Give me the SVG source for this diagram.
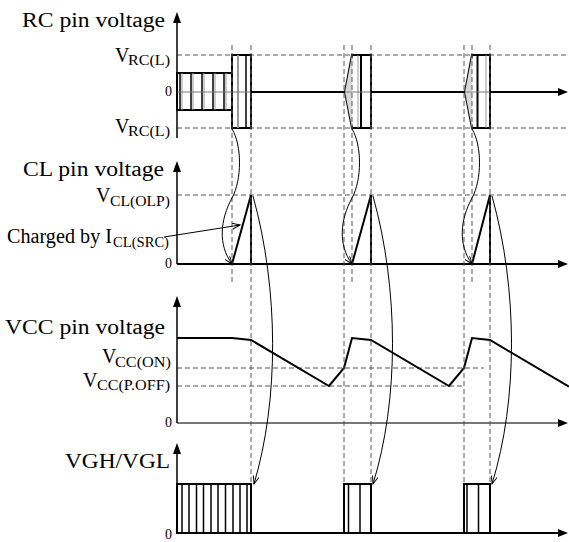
<svg xmlns="http://www.w3.org/2000/svg" width="569" height="542" viewBox="0 0 569 542">
<style>
.ax{stroke:#000;stroke-width:1.5;fill:none}
.base{stroke:#000;stroke-width:2;fill:none}
.dash{stroke:#555;stroke-width:1;stroke-dasharray:5 3;fill:none}
.wave{stroke:#000;stroke-width:2;fill:none}
.pulse{stroke:#000;stroke-width:2;fill:#fff}
.bar{stroke:#000;stroke-width:1.5}
.bar2{stroke:#999;stroke-width:1}
.cv{stroke:#000;stroke-width:1;fill:none;marker-end:url(#open)}
.hd{fill:#000;stroke:none}
text{font-family:"Liberation Serif","Times New Roman",serif;font-size:20px;fill:#000}
.sub{font-size:14px}
.z{font-size:14px;text-anchor:end}
</style>
<defs>
<marker id="open" markerWidth="10" markerHeight="8" refX="8" refY="3" orient="auto" markerUnits="userSpaceOnUse">
<path d="M0,0 L8,3 L0,6" fill="none" stroke="#000" stroke-width="1"/>
</marker>
</defs>

<g id="guides">
<line class="dash" x1="177" y1="55" x2="569" y2="55"/>
<line class="dash" x1="177" y1="128" x2="569" y2="128"/>
<line class="dash" x1="177" y1="195" x2="569" y2="195"/>
<line class="dash" x1="177" y1="368" x2="484" y2="368"/>
<line class="dash" x1="177" y1="386" x2="464" y2="386"/>
</g>

<g id="rc-panel">
<line class="base" x1="177" y1="92" x2="560" y2="92"/>
<path class="hd" d="M568,92 L558,88 L558,96 Z"/>
<rect class="pulse" x="177" y="73" width="55" height="37"/>
<g>
<line class="bar" x1="180" y1="73" x2="180" y2="110"/><line class="bar2" x1="182" y1="73" x2="182" y2="110"/>
<line class="bar" x1="191" y1="73" x2="191" y2="110"/><line class="bar2" x1="193" y1="73" x2="193" y2="110"/>
<line class="bar" x1="202" y1="73" x2="202" y2="110"/><line class="bar2" x1="204" y1="73" x2="204" y2="110"/>
<line class="bar" x1="213" y1="73" x2="213" y2="110"/><line class="bar2" x1="215" y1="73" x2="215" y2="110"/>
<line class="bar" x1="224" y1="73" x2="224" y2="110"/><line class="bar2" x1="226" y1="73" x2="226" y2="110"/>
</g>
<rect class="pulse" x="232" y="55" width="19" height="73"/>
<line class="bar2" x1="238" y1="55" x2="238" y2="128" style="stroke-width:2"/>
<line class="bar" x1="246" y1="55" x2="246" y2="128"/>
<path class="pulse" d="M345,92 L352,55 L371,55 L371,128 L352,128 Z"/>
<path d="M345,92 L352,55 L352,128 Z" fill="#d8d8d8"/>
<line class="bar" x1="361" y1="55" x2="361" y2="128" style="stroke-width:2"/>
<line class="bar2" x1="358" y1="55" x2="358" y2="128"/>
<path class="pulse" d="M465,92 L472,55 L490,55 L490,128 L472,128 Z"/>
<path d="M465,92 L472,55 L472,128 Z" fill="#d8d8d8"/>
<line class="bar" x1="477.5" y1="55" x2="477.5" y2="128" style="stroke-width:2"/>
<line class="bar2" x1="486" y1="55" x2="486" y2="128"/>
<line x1="177" y1="92" x2="251" y2="92" stroke="#777" stroke-width="1"/>
<line x1="345" y1="92" x2="371" y2="92" stroke="#777" stroke-width="1"/>
<line x1="465" y1="92" x2="490" y2="92" stroke="#777" stroke-width="1"/>
<line class="ax" x1="177" y1="20" x2="177" y2="138"/>
<path class="hd" d="M177,12 L173,23 L181,23 Z"/>
<text x="22" y="27" textLength="143" lengthAdjust="spacingAndGlyphs">RC pin voltage</text>
<text x="115" y="62">V</text><text class="sub" x="128" y="65" textLength="42" lengthAdjust="spacingAndGlyphs">RC(L)</text>
<text x="115" y="132.5">V</text><text class="sub" x="128" y="135.5" textLength="42" lengthAdjust="spacingAndGlyphs">RC(L)</text>
<text class="z" x="172" y="96">0</text>
</g>

<g id="cl-panel">
<line class="base" x1="177" y1="264" x2="560" y2="264"/>
<path class="hd" d="M568,264 L558,260 L558,268 Z"/>
<polyline class="wave" points="232,264 251,195 251,264"/>
<polyline class="wave" points="352,264 371,195 371,264"/>
<polyline class="wave" points="472,264 490,195 490,264"/>
<line class="ax" x1="177" y1="170" x2="177" y2="264"/>
<path class="hd" d="M177,161 L173,172 L181,172 Z"/>
<text x="23" y="176" textLength="141" lengthAdjust="spacingAndGlyphs">CL pin voltage</text>
<text x="96" y="202">V</text><text class="sub" x="110" y="205.5" textLength="60" lengthAdjust="spacingAndGlyphs">CL(OLP)</text>
<text class="z" x="172" y="268">0</text>
</g>

<g id="charged-label">
<text x="7" y="243" textLength="105" lengthAdjust="spacingAndGlyphs">Charged by I</text><text class="sub" x="113" y="247" textLength="56" lengthAdjust="spacingAndGlyphs">CL(SRC)</text>
</g>

<g id="vcc-panel">
<line x1="177" y1="423" x2="560" y2="423" stroke="#777" stroke-width="2"/>
<path class="hd" d="M568,423 L558,419 L558,427 Z"/>
<polyline class="wave" points="177,338 232,338 251,340 329,386 344,368 352,338 371,340 449,386 464,368 472,338 490,340 569,386.6"/>
<line class="ax" x1="177" y1="305" x2="177" y2="423"/>
<path class="hd" d="M177,296 L173,307 L181,307 Z"/>
<text x="5" y="334" textLength="160" lengthAdjust="spacingAndGlyphs">VCC pin voltage</text>
<text x="102" y="363">V</text><text class="sub" x="115" y="366.5" textLength="56" lengthAdjust="spacingAndGlyphs">CC(ON)</text>
<text x="83" y="386.5">V</text><text class="sub" x="97" y="390" textLength="73" lengthAdjust="spacingAndGlyphs">CC(P.OFF)</text>
<text class="z" x="172" y="427">0</text>
</g>

<g id="vgh-panel">
<line class="base" x1="177" y1="533" x2="560" y2="533"/>
<path class="hd" d="M568,533 L558,529 L558,537 Z"/>
<rect class="pulse" x="177" y="484" width="74" height="49"/>
<g>
<line class="bar" x1="182" y1="484" x2="182" y2="533"/>
<line class="bar" x1="189" y1="484" x2="189" y2="533"/>
<line class="bar" x1="196.5" y1="484" x2="196.5" y2="533"/>
<line class="bar" x1="203.5" y1="484" x2="203.5" y2="533"/>
<line class="bar" x1="211" y1="484" x2="211" y2="533"/>
<line class="bar" x1="218" y1="484" x2="218" y2="533"/>
<line class="bar" x1="225.5" y1="484" x2="225.5" y2="533"/>
<line class="bar" x1="233" y1="484" x2="233" y2="533"/>
<line class="bar" x1="240" y1="484" x2="240" y2="533"/>
<line class="bar" x1="247" y1="484" x2="247" y2="533"/>
</g>
<rect class="pulse" x="344" y="484" width="27" height="49"/>
<line class="bar" x1="348.5" y1="484" x2="348.5" y2="533"/>
<line class="bar" x1="360" y1="484" x2="360" y2="533"/>
<rect class="pulse" x="464" y="484" width="26" height="49"/>
<line class="bar" x1="467" y1="484" x2="467" y2="533"/>
<line class="bar" x1="478.5" y1="484" x2="478.5" y2="533"/>
<line class="ax" x1="177" y1="452" x2="177" y2="533"/>
<path class="hd" d="M177,443 L173,454 L181,454 Z"/>
<text x="65" y="468" textLength="105" lengthAdjust="spacingAndGlyphs">VGH/VGL</text>
<text class="z" x="172" y="539">0</text>
</g>

<g id="timing-lines">
<line class="dash" x1="232" y1="45" x2="232" y2="283"/>
<line class="dash" x1="251" y1="45" x2="251" y2="484"/>
<line class="dash" x1="344" y1="45" x2="344" y2="484"/>
<line class="dash" x1="352" y1="45" x2="352" y2="283"/>
<line class="dash" x1="371" y1="45" x2="371" y2="484"/>
<line class="dash" x1="464" y1="45" x2="464" y2="484"/>
<line class="dash" x1="472" y1="45" x2="472" y2="283"/>
<line class="dash" x1="490" y1="45" x2="490" y2="484"/>
</g>

<g id="connectors">
<path class="cv" d="M232,129 C242,145 242,180 232,198 C220,220 218,245 232,264"/>
<path class="cv" d="M352,129 C362,145 362,180 352,198 C340,220 338,245 352,264"/>
<path class="cv" d="M472,129 C482,145 482,180 472,198 C460,220 458,245 472,264"/>
<path class="cv" d="M253,196 C279,290 279,400 254,484"/>
<path class="cv" d="M373,196 C399,290 399,400 373,484"/>
<path class="cv" d="M492,196 C518,290 518,400 492,484"/>
<path class="cv" d="M164,237 L240,225"/>
</g>
</svg>
